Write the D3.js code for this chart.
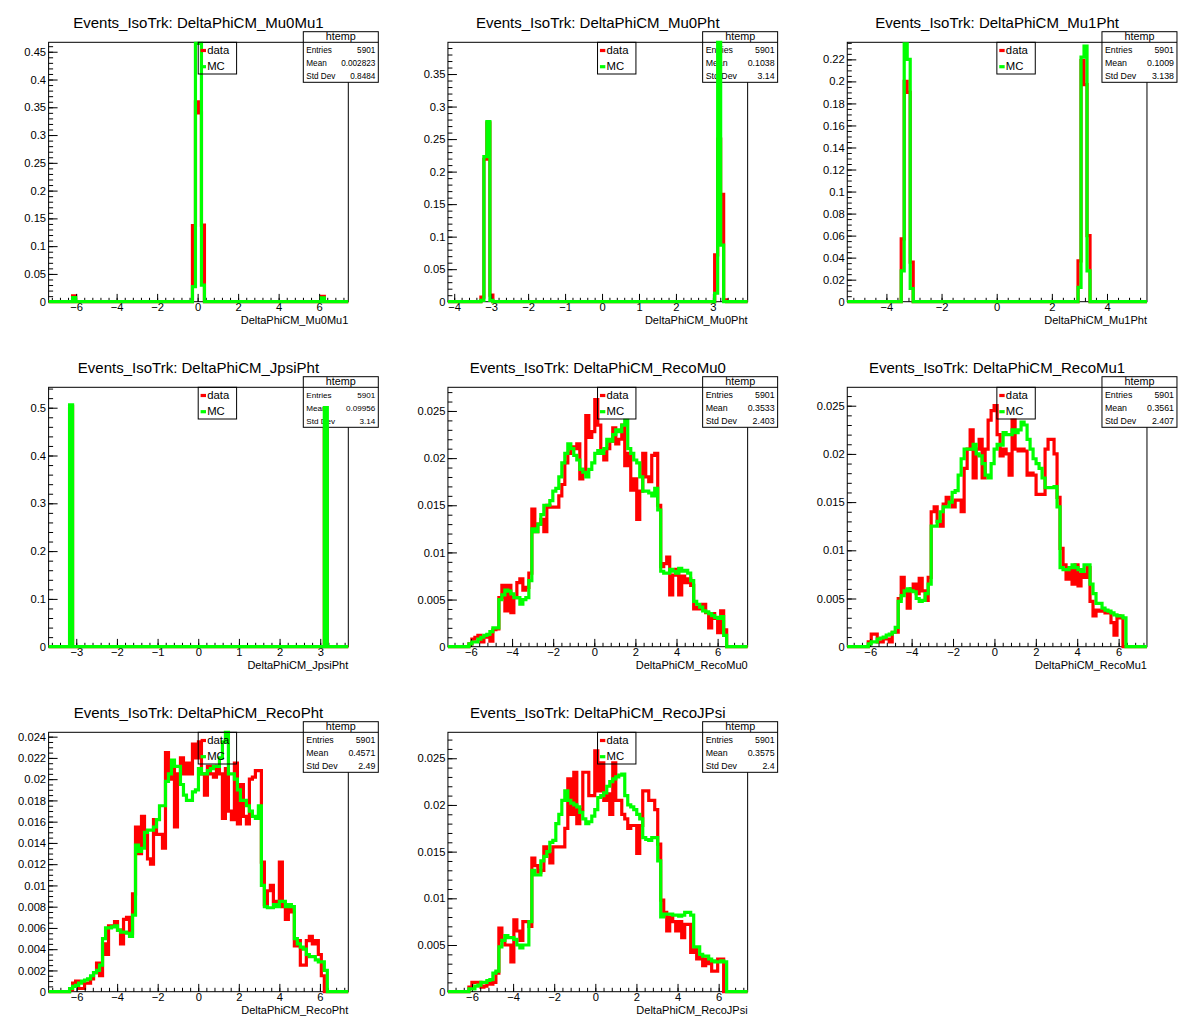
<!DOCTYPE html>
<html><head><meta charset="utf-8">
<script src="https://cdn.jsdelivr.net/npm/d3@7"></script>
<style>
body{margin:0;background:#fff}
svg{display:block}
text{font-family:"Liberation Sans",Arial,Helvetica,sans-serif}
</style>
</head><body>
<svg id="c" width="1198" height="1035"></svg>
<script>
// ---------------- data (normalised bin contents, 100 bins per histogram) ----------------
const varNames = ["DeltaPhiCM_Mu0Mu1","DeltaPhiCM_Mu0Pht","DeltaPhiCM_Mu1Pht","DeltaPhiCM_JpsiPht",
                  "DeltaPhiCM_RecoMu0","DeltaPhiCM_RecoMu1","DeltaPhiCM_RecoPht","DeltaPhiCM_RecoJPsi"];
const xRanges = [[-7.36,7.44],[-4.17,3.94],[-5.42,5.45],[-3.68,3.69],[-7.12,7.46],[-7.11,7.37],[-7.38,7.40],[-7.17,7.41]];
const yMaxes = [0.467,0.3988,0.2355,0.5427,0.02751,0.02691,0.02441,0.02778];

// sparse histograms: bin indices + contents
const mu0mu1DataBins = [8,48,49,50,51,91];
const mu0mu1DataVals = [0.0105,0.137,0.36,0.34,0.138,0.0095];
const mu0mu1McBins   = [8,48,49,50,51,91];
const mu0mu1McVals   = [0.0075,0.027,0.465,0.465,0.03,0.007];

const mu0PhtDataBins = [11,12,13,14,89,90,91,92];
const mu0PhtDataVals = [0.007,0.219,0.275,0.01,0.072,0.25,0.165,0.003];
const mu0PhtMcBins   = [11,12,13,14,89,90,91];
const mu0PhtMcVals   = [0.002,0.223,0.277,0.002,0.013,0.40,0.087];

const mu1PhtDataBins = [18,19,20,21,77,78,79,80];
const mu1PhtDataVals = [0.057,0.2,0.19,0.036,0.037,0.219,0.197,0.06];
const mu1PhtMcBins   = [18,19,20,21,77,78,79,80];
const mu1PhtMcVals   = [0.028,0.234,0.22,0.012,0.013,0.222,0.232,0.028];

const jpsiPhtDataBins = [7,92];
const jpsiPhtDataVals = [0.503,0.497];
const jpsiPhtMcBins   = [7,92];
const jpsiPhtMcVals   = [0.506,0.5];

// broad histograms: contents of bins 7..92
const broadFirstBin = 7;
const recoMu0Data = [0.0003,0.0008,0.001,0.0012,0.0005,0.001,0.0012,0.0006,0.0018,0.0019,
 0.0052,0.0065,0.0038,0.0065,0.0036,0.0052,0.0068,0.0072,0.006,0.0063,0.0078,
 0.0146,0.0122,0.013,0.0135,0.0122,0.015,0.0148,0.0148,0.0148,0.016,0.0172,
 0.0195,0.0205,0.0212,0.021,0.0215,0.0178,0.0188,0.0245,0.0222,0.0228,0.0262,
 0.0235,0.0205,0.0198,0.021,0.0218,0.0232,0.0215,0.022,0.0235,0.0192,
 0.0205,0.0166,0.0178,0.0135,0.0165,0.0205,0.018,0.0175,0.0203,0.0205,0.015,
 0.0085,0.0088,0.0095,0.0055,0.0076,0.0082,0.0055,0.0075,0.0068,0.0072,0.0065,
 0.004,0.0042,0.004,0.0045,0.0036,0.002,0.0035,0.003,0.0015,0.0038,0.0018];
const recoMu0Mc = [0.0003,0.0005,0.0005,0.0008,0.001,0.0012,0.0013,0.0016,0.002,0.002,
 0.005,0.0055,0.006,0.0059,0.0056,0.0052,0.0052,0.0045,0.005,0.0052,0.007,
 0.0125,0.0122,0.013,0.014,0.015,0.015,0.0155,0.0165,0.0168,0.018,0.0195,
 0.0205,0.0215,0.021,0.0203,0.0198,0.0188,0.0185,0.018,0.0188,0.0195,0.0205,
 0.0208,0.0205,0.021,0.022,0.0218,0.0225,0.023,0.0228,0.0235,0.024,
 0.021,0.0205,0.0198,0.0195,0.018,0.0165,0.0165,0.0163,0.016,0.0168,0.0145,
 0.008,0.0078,0.0078,0.0082,0.008,0.0078,0.0083,0.008,0.0081,0.0078,0.007,
 0.0048,0.0045,0.0042,0.0038,0.0037,0.0035,0.0033,0.0031,0.003,0.0032,0.0012];
const recoMu1Data = [0.0005,0.0013,0.0013,0.0005,0.0005,0.0008,0.0008,0.0005,0.0015,0.0015,
 0.005,0.0072,0.0056,0.004,0.006,0.0065,0.0055,0.0071,0.0058,0.0048,0.0072,
 0.014,0.0145,0.013,0.0125,0.0148,0.0155,0.015,0.0145,0.0152,0.0152,0.014,
 0.0185,0.0205,0.0225,0.0175,0.0205,0.0215,0.0175,0.0205,0.0235,0.0245,0.025,
 0.022,0.0198,0.0205,0.02,0.0178,0.0235,0.0205,0.0203,0.0205,0.0203,
 0.0178,0.018,0.0178,0.0158,0.0158,0.0158,0.0205,0.0215,0.0215,0.02,0.0155,
 0.0102,0.0085,0.007,0.0082,0.0065,0.0085,0.0063,0.0075,0.0072,0.0082,0.0047,
 0.0032,0.0038,0.0037,0.0038,0.0035,0.0035,0.0025,0.0012,0.0032,0.003,0];
const recoMu1Mc = [0.0003,0.0005,0.0005,0.0008,0.0009,0.001,0.0012,0.0013,0.0015,0.002,
 0.0047,0.0053,0.0058,0.006,0.0058,0.0057,0.005,0.0047,0.0048,0.0055,0.0065,
 0.0125,0.0125,0.013,0.014,0.0145,0.0145,0.015,0.016,0.0162,0.0178,0.0195,
 0.0205,0.0205,0.0205,0.021,0.02,0.0198,0.019,0.0178,0.0175,0.019,0.0205,
 0.021,0.0209,0.0222,0.022,0.022,0.0225,0.0222,0.0225,0.0233,0.023,
 0.0215,0.0205,0.0195,0.019,0.0185,0.0175,0.0165,0.0165,0.0165,0.0166,0.0145,
 0.0082,0.008,0.008,0.0082,0.0085,0.0082,0.008,0.0078,0.0085,0.0085,0.0065,
 0.0055,0.0045,0.0045,0.004,0.0038,0.0037,0.0035,0.0033,0.0032,0.0032,0.003];
const recoPhtData = [0.0002,0.0008,0.001,0.0003,0.0003,0.0008,0.0008,0.0012,0.0018,0.0027,
 0.0015,0.0045,0.0035,0.0062,0.0062,0.0066,0.0058,0.0045,0.0068,0.007,0.0055,
 0.0092,0.0155,0.013,0.0165,0.0148,0.0125,0.012,0.0162,0.0148,0.0148,0.0135,
 0.0225,0.02,0.021,0.0155,0.0205,0.022,0.0205,0.0215,0.0205,0.0233,0.022,
 0.0235,0.0205,0.0185,0.0212,0.0205,0.0202,0.0212,0.0205,0.0163,0.021,
 0.017,0.0162,0.0215,0.0158,0.0195,0.0165,0.0158,0.02,0.0202,0.0208,0.0208,
 0.0122,0.0082,0.0095,0.01,0.0085,0.0085,0.0122,0.008,0.0068,0.008,0.0075,
 0.0043,0.0048,0.0025,0.0025,0.0048,0.0052,0.0045,0.0048,0.0035,0.0015,0];
const recoPhtMc = [0.0003,0.0005,0.0006,0.0008,0.001,0.0011,0.0012,0.0015,0.0018,0.002,
 0.0025,0.005,0.006,0.006,0.0061,0.0062,0.0058,0.0056,0.0056,0.0055,0.0052,
 0.0072,0.0138,0.0132,0.0135,0.015,0.0152,0.0152,0.0155,0.0162,0.0175,0.0175,
 0.0198,0.0205,0.0218,0.0212,0.0212,0.0195,0.0185,0.018,0.018,0.0188,0.019,
 0.021,0.0205,0.0205,0.0208,0.021,0.0212,0.0212,0.022,0.0235,0.0245,
 0.0205,0.0205,0.02,0.019,0.018,0.018,0.0175,0.017,0.0165,0.0163,0.0175,
 0.01,0.008,0.0079,0.0079,0.0082,0.008,0.0085,0.0085,0.008,0.0082,0.008,
 0.005,0.0045,0.0042,0.004,0.0035,0.0033,0.0033,0.003,0.0028,0.0028,0.002];
const recoJPsiData = [0.0005,0.001,0.001,0.001,0.0005,0.0006,0.001,0.0008,0.001,0.002,
 0.0068,0.0055,0.005,0.005,0.0032,0.0077,0.0065,0.0055,0.0075,0.0075,0.007,
 0.0143,0.0135,0.0128,0.013,0.0155,0.0148,0.0138,0.0155,0.0155,0.0155,0.0155,
 0.0175,0.0228,0.019,0.0235,0.018,0.0195,0.0235,0.0235,0.021,0.021,0.0258,
 0.0215,0.0245,0.0205,0.0212,0.019,0.0245,0.0205,0.0205,0.019,0.0185,
 0.0175,0.0178,0.0178,0.0148,0.0178,0.0215,0.0215,0.0205,0.0205,0.0195,0.0158,
 0.0098,0.0085,0.0065,0.008,0.0075,0.0065,0.0075,0.0058,0.0072,0.0072,0.0042,
 0.0045,0.0035,0.0038,0.0028,0.0035,0.003,0.0022,0.0022,0.0035,0.0035,0];
const recoJPsiMc = [0.0003,0.0003,0.0006,0.0007,0.001,0.001,0.0012,0.0013,0.002,0.0022,
 0.0048,0.0055,0.006,0.0058,0.0058,0.0056,0.005,0.0047,0.005,0.005,0.0075,
 0.013,0.0125,0.0125,0.014,0.0145,0.015,0.016,0.0162,0.018,0.019,0.0205,
 0.0215,0.0205,0.0202,0.02,0.0198,0.0192,0.0185,0.018,0.0182,0.0188,0.0195,
 0.0208,0.021,0.0213,0.022,0.0225,0.0228,0.023,0.0232,0.0233,0.021,
 0.02,0.0198,0.0195,0.019,0.0185,0.0165,0.0163,0.0162,0.0165,0.0165,0.014,
 0.008,0.0083,0.0083,0.0083,0.0082,0.0082,0.0081,0.0082,0.0085,0.0085,0.0082,
 0.0048,0.0048,0.004,0.0038,0.0038,0.0035,0.0033,0.0032,0.0032,0.0033,0.0032];

// stat box contents
const statEntries = ["5901","5901","5901","5901","5901","5901","5901","5901"];
const statMeans   = ["0.002823","0.1038","0.1009","0.09956","0.3533","0.3561","0.4571","0.3575"];
const statStdDevs = ["0.8484","3.14","3.138","3.14","2.403","2.407","2.49","2.4"];

// tick labels
const xTicksWide = [-6,-4,-2,0,2,4,6];
const xTicksMu0Pht = [-4,-3,-2,-1,0,1,2,3];
const xTicksMu1Pht = [-4,-2,0,2,4];
const xTicksJpsiPht = [-3,-2,-1,0,1,2,3];
const yTicksMu0Mu1 = [0,0.05,0.1,0.15,0.2,0.25,0.3,0.35,0.4,0.45];
const yTicksMu0Pht = [0,0.05,0.1,0.15,0.2,0.25,0.3,0.35];
const yTicksMu1Pht = [0,0.02,0.04,0.06,0.08,0.1,0.12,0.14,0.16,0.18,0.2,0.22];
const yTicksJpsiPht = [0,0.1,0.2,0.3,0.4,0.5];
const yTicksReco = [0,0.005,0.01,0.015,0.02,0.025];
const yTicksRecoPht = [0,0.002,0.004,0.006,0.008,0.01,0.012,0.014,0.016,0.018,0.02,0.022,0.024];
const xMinorSteps = [0.4,0.2,0.4,0.2,0.4,0.4,0.4,0.4];
const yMinorSteps = [0.01,0.01,0.005,0.02,0.001,0.001,0.0005,0.001];

// ---------------- build pad descriptions ----------------
const NB = 100;
function denseFromSparse(bins, vals){ const a=new Array(NB).fill(0); bins.forEach((b,i)=>a[b]=vals[i]); return a; }
function denseFromRun(first, vals){ const a=new Array(NB).fill(0); vals.forEach((v,i)=>a[first+i]=v); return a; }

const padData = [
  [denseFromSparse(mu0mu1DataBins,mu0mu1DataVals), denseFromSparse(mu0mu1McBins,mu0mu1McVals)],
  [denseFromSparse(mu0PhtDataBins,mu0PhtDataVals), denseFromSparse(mu0PhtMcBins,mu0PhtMcVals)],
  [denseFromSparse(mu1PhtDataBins,mu1PhtDataVals), denseFromSparse(mu1PhtMcBins,mu1PhtMcVals)],
  [denseFromSparse(jpsiPhtDataBins,jpsiPhtDataVals), denseFromSparse(jpsiPhtMcBins,jpsiPhtMcVals)],
  [denseFromRun(broadFirstBin,recoMu0Data), denseFromRun(broadFirstBin,recoMu0Mc)],
  [denseFromRun(broadFirstBin,recoMu1Data), denseFromRun(broadFirstBin,recoMu1Mc)],
  [denseFromRun(broadFirstBin,recoPhtData), denseFromRun(broadFirstBin,recoPhtMc)],
  [denseFromRun(broadFirstBin,recoJPsiData), denseFromRun(broadFirstBin,recoJPsiMc)]
];
const padXTicks = [xTicksWide,xTicksMu0Pht,xTicksMu1Pht,xTicksJpsiPht,xTicksWide,xTicksWide,xTicksWide,xTicksWide];
const padYTicks = [yTicksMu0Mu1,yTicksMu0Pht,yTicksMu1Pht,yTicksJpsiPht,yTicksReco,yTicksReco,yTicksRecoPht,yTicksReco];
const statFont = [8.2,8.8,8.8,8.1,8.8,8.8,8.8,8.8];

// ---------------- drawing ----------------
const svg = d3.select("#c");
svg.append("rect").attr("width",1198).attr("height",1035).attr("fill","#fff");
const FONT = '"Liberation Sans",Arial,Helvetica,sans-serif';
const padW = 1198/3, padH = 345;

function minorValues(domain, step){
  const out=[]; const k0=Math.ceil(domain[0]/step-1e-9), k1=Math.floor(domain[1]/step+1e-9);
  for(let k=k0;k<=k1;k++) out.push(+(k*step).toFixed(8));
  return out;
}
const yFmt = d => String(+d.toPrecision(6));

varNames.forEach((nm, p) => {
  const col = p % 3, row = Math.floor(p / 3);
  const fx0 = col*padW + 48.6, fx1 = fx0 + 299.7;
  const fy0 = row*padH + 42.3, fy1 = fy0 + 259.4;
  const g = svg.append("g");
  const x = d3.scaleLinear().domain(xRanges[p]).range([fx0, fx1]);
  const y = d3.scaleLinear().domain([0, yMaxes[p]]).range([fy1, fy0]);

  // frame
  g.append("rect").attr("x",fx0).attr("y",fy0).attr("width",fx1-fx0).attr("height",fy1-fy0)
    .attr("fill","#fff").attr("stroke","#000").attr("stroke-width",1);

  const binW = (xRanges[p][1]-xRanges[p][0])/NB;
  const line = d3.line().x(d=>x(d[0])).y(d=>y(Math.min(d[1], yMaxes[p]))).curve(d3.curveStepAfter);
  function histPts(vals){
    const pts = vals.map((v,i)=>[xRanges[p][0]+i*binW, v]);
    pts.push([xRanges[p][1], vals[NB-1]]);
    return pts;
  }
  function drawHist(vals, color){
    g.append("path").attr("d", line(histPts(vals))).attr("fill","none")
      .attr("stroke",color).attr("stroke-width",3.2).attr("stroke-linejoin","miter");
  }
  // data histogram (drawn first)
  drawHist(padData[p][0], "#ff0000");

  // axes
  const style = sel => { sel.attr("font-size",11.2).attr("font-family",FONT).attr("color","#000");
                         sel.select(".domain").remove(); };
  g.append("g").attr("transform",`translate(0,${fy1})`)
    .call(d3.axisBottom(x).tickValues(minorValues(xRanges[p], xMinorSteps[p])).tickSize(-3.9).tickFormat(""))
    .call(style).selectAll("text").remove();
  g.append("g").attr("transform",`translate(0,${fy1})`)
    .call(d3.axisBottom(x).tickValues(padXTicks[p]).tickSize(-7.8).tickPadding(1).tickFormat(d3.format("d")))
    .call(style);
  g.append("g").attr("transform",`translate(${fx0},0)`)
    .call(d3.axisLeft(y).tickValues(minorValues([0,yMaxes[p]], yMinorSteps[p])).tickSize(-4.5).tickFormat(""))
    .call(style).selectAll("text").remove();
  g.append("g").attr("transform",`translate(${fx0},0)`)
    .call(d3.axisLeft(y).tickValues(padYTicks[p]).tickSize(-9).tickPadding(2.5).tickFormat(yFmt))
    .call(style);

  // x axis title
  g.append("text").attr("x",fx1).attr("y",fy1+22.3).attr("text-anchor","end")
    .attr("font-size",11).text(nm);
  // pad title
  g.append("text").attr("x",(fx0+fx1)/2).attr("y",row*padH+27.5).attr("text-anchor","middle")
    .attr("font-size",15).text("Events_IsoTrk: " + nm);

  // stat box
  const sx0 = fx1-45, sx1 = fx1+30, sy0 = fy0-10.6, sy1 = fy0+40;
  g.append("rect").attr("x",sx0).attr("y",sy0).attr("width",sx1-sx0).attr("height",sy1-sy0)
    .attr("fill","#fff").attr("stroke","#000").attr("stroke-width",1);
  g.append("line").attr("x1",sx0).attr("x2",sx1).attr("y1",fy0).attr("y2",fy0).attr("stroke","#000");
  g.append("text").attr("x",(sx0+sx1)/2).attr("y",fy0-2.6).attr("text-anchor","middle")
    .attr("font-size",10.8).text("htemp");
  const rows = [["Entries",statEntries[p]],["Mean",statMeans[p]],["Std Dev",statStdDevs[p]]];
  rows.forEach((r,i)=>{
    const yy = fy0 + 10.5 + i*13;
    g.append("text").attr("x",sx0+3).attr("y",yy).attr("font-size",statFont[p]).text(r[0]);
    g.append("text").attr("x",sx1-3).attr("y",yy).attr("text-anchor","end").attr("font-size",statFont[p]).text(r[1]);
  });

  // MC histogram (drawn after stat box)
  drawHist(padData[p][1], "#00ff00");

  // legend (transparent)
  const lx = fx0 + 149.6, ly = fy0;
  g.append("rect").attr("x",lx).attr("y",ly).attr("width",38.4).attr("height",31.7)
    .attr("fill","none").attr("stroke","#000").attr("stroke-width",1);
  [["data","#ff0000",8.2],["MC","#00ff00",24.4]].forEach(e=>{
    g.append("line").attr("x1",lx+2.4).attr("x2",lx+7.8).attr("y1",ly+e[2]).attr("y2",ly+e[2])
      .attr("stroke",e[1]).attr("stroke-width",3.2);
    g.append("text").attr("x",lx+9).attr("y",ly+e[2]+3.6).attr("font-size",11.3).text(e[0]);
  });
});
</script>
</body></html>
